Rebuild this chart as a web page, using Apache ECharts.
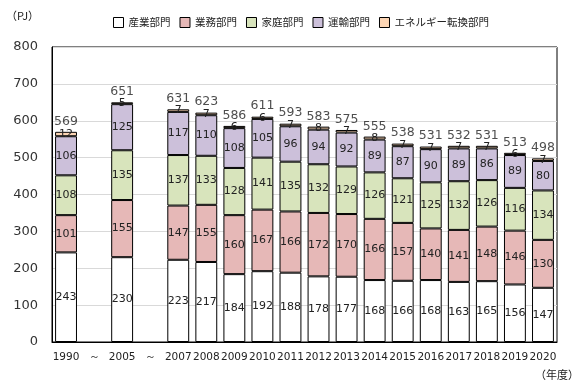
<!DOCTYPE html>
<html><head><meta charset="utf-8">
<script src="https://cdn.jsdelivr.net/npm/echarts@6/dist/echarts.min.js"></script>
<style>html,body{margin:0;padding:0;background:#fff}#c{width:585px;height:391px}</style>
</head><body><div id="c"></div>
<script>
const categories = ['1990','～','2005','～','2007','2008','2009','2010','2011','2012','2013','2014','2015','2016','2017','2018','2019','2020'];
const industry   = [243,'-',230,'-',223,217,184,192,188,178,177,168,166,168,163,165,156,147];
const commercial = [101,'-',155,'-',147,155,160,167,166,172,170,166,157,140,141,148,146,130];
const household  = [108,'-',135,'-',137,133,128,141,135,132,129,126,121,125,132,126,116,134];
const transport  = [106,'-',125,'-',117,110,108,105,96,94,92,89,87,90,89,86,89,80];
const energyConv = [12,'-',5,'-',7,7,6,6,7,8,7,8,7,7,7,7,6,7];
const totals     = [569,'-',651,'-',631,623,586,611,593,583,575,555,538,531,532,531,513,498];
const seriesNames = ['産業部門','業務部門','家庭部門','運輸部門','エネルギー転換部門'];
const yTicks = [0,100,200,300,400,500,600,700,800];

const colors = ['#FFFFFF','#E6B8B7','#D8E4BC','#CCC0DA','#FCD5B4'];
const numFont = 'DejaVu Sans';
const cjkFont = 'Noto Sans CJK JP';
const chart = echarts.init(document.getElementById('c'));
const mk = (name, data, color) => ({
  name, type:'bar', stack:'s', data, barWidth:'78%',
  itemStyle:{color, borderColor:'#000', borderWidth:1},
  label:{show:true, position:'inside', color:'#222', fontSize:11, fontFamily:numFont},
  emphasis:{disabled:true}
});
const vals = [industry, commercial, household, transport, energyConv];
const series = seriesNames.map((n,i)=>mk(n, vals[i], colors[i]));
series.push({
  name:'total', type:'scatter', data: totals, symbolSize:0,
  label:{show:true, position:'top', distance:4, color:'#222', fontSize:12.5, fontFamily:numFont},
  z:10
});
chart.setOption({
  animation:false,
  legend:{
    data: seriesNames.map(n=>({name:n, itemStyle:{borderColor:'#000',borderWidth:1}})),
    top:12, left:108, itemWidth:10, itemHeight:10, itemGap:9, icon:'rect',
    textStyle:{fontFamily:cjkFont, fontSize:10.5, color:'#222'}
  },
  grid:{left:52, right:28, top:47, bottom:49, show:true, borderColor:'#000', borderWidth:1},
  xAxis:{
    type:'category', data:categories,
    axisLine:{lineStyle:{color:'#000'}}, axisTick:{show:false},
    axisLabel:{interval:0, color:'#222', fontSize:10.5, fontFamily:numFont, margin:10},
  },
  yAxis:{
    type:'value', min:0, max:800, interval:100,
    axisLine:{show:true, lineStyle:{color:'#000'}}, axisTick:{show:false},
    splitLine:{lineStyle:{color:'#D9D9D9'}},
    axisLabel:{color:'#333', fontSize:13, fontFamily:numFont, margin:14,
      formatter:v=>yTicks.includes(v)?String(v):''}
  },
  graphic:[
    {type:'text', left:6, top:10, style:{text:'（PJ）', font:'11px "Noto Sans CJK JP"', fill:'#222'}},
    {type:'text', right:6, top:369, style:{text:'（年度）', font:'11px "Noto Sans CJK JP"', fill:'#222'}}
  ],
  series
});
</script></body></html>
